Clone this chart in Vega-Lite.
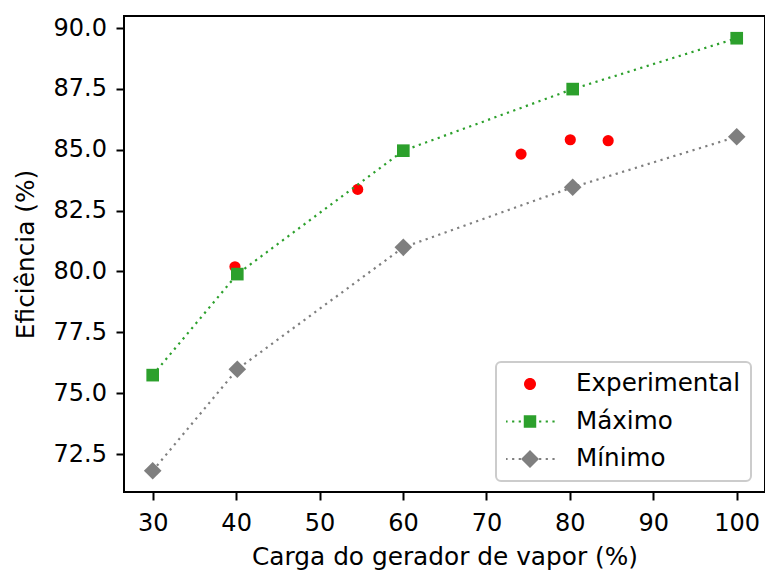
{
  "$schema": "https://vega.github.io/schema/vega-lite/v6.json",
  "width": 641,
  "height": 476,
  "autosize": {"type": "none"},
  "padding": {"left": 124, "top": 16, "right": 0, "bottom": 78},
  "background": "white",
  "config": {
    "font": "DejaVu Sans",
    "view": {"stroke": "black", "strokeWidth": 2},
    "axis": {
      "grid": false, "domain": false,
      "tickColor": "black", "tickWidth": 2, "tickSize": 8,
      "labelColor": "black", "labelFont": "DejaVu Sans", "labelFontSize": 24,
      "titleFont": "DejaVu Sans", "titleFontSize": 24.8, "titleFontWeight": "normal", "titleColor": "black"
    },
    "legend": {
      "padding": 10,
      "strokeColor": "#cccccc",
      "strokeWidth": 2,
      "fillColor": "white",
      "cornerRadius": 5,
      "symbolSize": 2304,
      "symbolStrokeWidth": 0,
      "symbolOpacity": 1,
      "labelOffset": 22,
      "clipHeight": 24,
      "rowPadding": 12.5,
      "labelFont": "DejaVu Sans",
      "labelFontSize": 24.6,
      "labelColor": "black",
      "labelLimit": 400
    }
  },
  "datasets": {
    "pts": [
      {"serie": "Experimental", "carga": 39.86, "eficiencia": 80.19},
      {"serie": "Experimental", "carga": 54.57, "eficiencia": 83.37},
      {"serie": "Experimental", "carga": 74.15, "eficiencia": 84.82},
      {"serie": "Experimental", "carga": 80.05, "eficiencia": 85.41},
      {"serie": "Experimental", "carga": 84.59, "eficiencia": 85.37},
      {"serie": "Máximo", "carga": 30, "eficiencia": 75.74},
      {"serie": "Máximo", "carga": 40.14, "eficiencia": 79.89},
      {"serie": "Máximo", "carga": 60.04, "eficiencia": 84.96},
      {"serie": "Máximo", "carga": 80.34, "eficiencia": 87.49},
      {"serie": "Máximo", "carga": 100, "eficiencia": 89.58},
      {"serie": "Mínimo", "carga": 30, "eficiencia": 71.81},
      {"serie": "Mínimo", "carga": 40.14, "eficiencia": 75.98},
      {"serie": "Mínimo", "carga": 60.04, "eficiencia": 80.99},
      {"serie": "Mínimo", "carga": 80.34, "eficiencia": 83.46},
      {"serie": "Mínimo", "carga": 100, "eficiencia": 85.53}
    ]
  },
  "data": {"name": "pts"},
  "encoding": {
    "x": {
      "field": "carga", "type": "quantitative",
      "scale": {"domain": [26.56, 103.39], "nice": false, "zero": false},
      "axis": {
        "title": "Carga do gerador de vapor (%)",
        "values": [30, 40, 50, 60, 70, 80, 90, 100],
        "format": "d",
        "labelPadding": 11,
        "titleBaseline": "alphabetic",
        "titleY": 72
      }
    },
    "y": {
      "field": "eficiencia", "type": "quantitative",
      "scale": {"domain": [70.939, 90.493], "nice": false, "zero": false},
      "axis": {
        "title": "Eficiência (%)",
        "values": [72.5, 75, 77.5, 80, 82.5, 85, 87.5, 90],
        "format": ".1f",
        "labelPadding": 9.5,
        "titleBaseline": "alphabetic",
        "titleX": -90.7
      }
    }
  },
  "layer": [
    {
      "mark": {"type": "point", "filled": true},
      "encoding": {
        "color": {
          "field": "serie", "type": "nominal",
          "scale": {"domain": ["Experimental", "Máximo", "Mínimo"], "range": ["#ff0000", "#2ca02c", "#7f7f7f"]},
          "legend": {"title": null, "orient": "none", "legendX": 372, "legendY": 346, "symbolOpacity": 1,
            "encode": {"symbols": {"update": {"opacity": {"value": 1}}}}}
        },
        "shape": {
          "field": "serie", "type": "nominal",
          "scale": {
            "domain": ["Experimental", "Máximo", "Mínimo"],
            "range": [
              "M0.25,0A0.25,0.25,0,1,1,-0.25,0A0.25,0.25,0,1,1,0.25,0Z",
              "M-0.26,-0.26h0.52v0.52h-0.52ZM-1.026,-0.046h0.092v0.092h-0.092ZM-0.746,-0.046h0.092v0.092h-0.092ZM-0.471,-0.046h0.092v0.092h-0.092ZM0.379,-0.046h0.092v0.092h-0.092ZM0.654,-0.046h0.092v0.092h-0.092ZM0.934,-0.046h0.092v0.092h-0.092Z",
              "M-0.375,0L0,-0.375L0.375,0L0,0.375ZM-1.026,-0.046h0.092v0.092h-0.092ZM-0.746,-0.046h0.092v0.092h-0.092ZM-0.471,-0.046h0.092v0.092h-0.092ZM0.379,-0.046h0.092v0.092h-0.092ZM0.654,-0.046h0.092v0.092h-0.092ZM0.934,-0.046h0.092v0.092h-0.092Z"
            ]
          },
          "legend": {"title": null, "orient": "none", "legendX": 372, "legendY": 346, "symbolOpacity": 1,
            "encode": {"symbols": {"update": {"opacity": {"value": 1}}}}}
        },
        "opacity": {"value": 0}
      }
    },
    {
      "transform": [{"filter": "datum.serie === 'Experimental'"}],
      "mark": {"type": "point", "filled": true, "shape": "circle", "size": 125, "color": "#ff0000", "opacity": 1}
    },
    {
      "transform": [{"filter": "datum.serie === 'Máximo'"}],
      "mark": {"type": "line", "color": "#2ca02c", "strokeWidth": 2.2, "strokeDash": [2.2, 4.5], "strokeCap": "butt"}
    },
    {
      "transform": [{"filter": "datum.serie === 'Máximo'"}],
      "mark": {"type": "point", "filled": true, "shape": "square", "size": 160, "color": "#2ca02c", "opacity": 1}
    },
    {
      "transform": [{"filter": "datum.serie === 'Mínimo'"}],
      "mark": {"type": "line", "color": "#7f7f7f", "strokeWidth": 2.2, "strokeDash": [2.2, 4.5], "strokeCap": "butt"}
    },
    {
      "transform": [{"filter": "datum.serie === 'Mínimo'"}],
      "mark": {"type": "point", "filled": true, "shape": "diamond", "size": 310, "color": "#7f7f7f", "opacity": 1}
    }
  ]
}
